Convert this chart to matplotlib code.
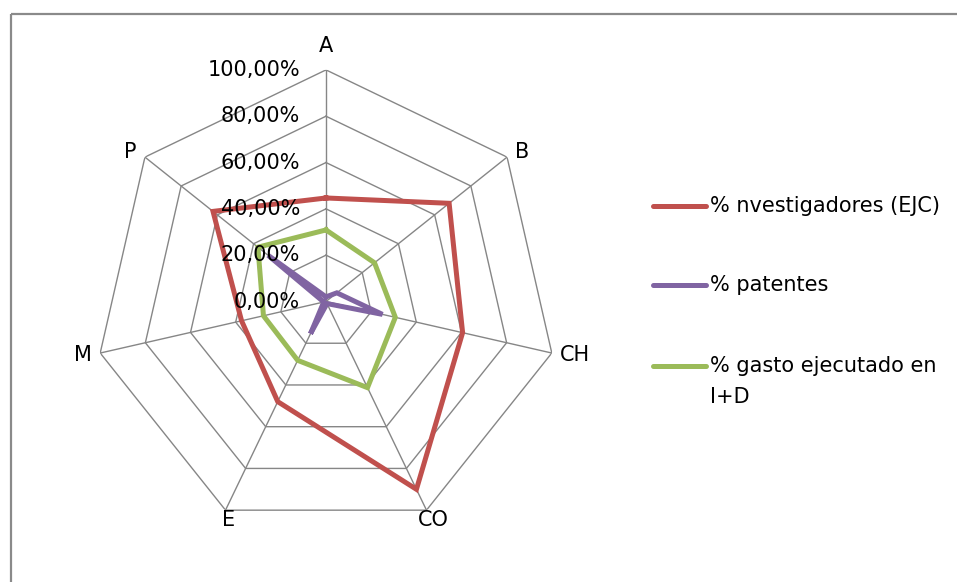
import numpy as np
import matplotlib
matplotlib.use("Agg")
import matplotlib.pyplot as plt
from matplotlib.lines import Line2D
from matplotlib.patches import Rectangle

categories = ["A", "B", "CH", "CO", "E", "M", "P"]
investigadores = [0.447, 0.68, 0.605, 0.90, 0.48, 0.374, 0.624]
patentes = [0.02, 0.06, 0.25, 0.01, 0.154, 0.01, 0.32]
gasto = [0.309, 0.268, 0.307, 0.413, 0.282, 0.277, 0.376]
series_names = ["% nvestigadores (EJC)", "% patentes", "% gasto ejecutado en\nI+D"]
tick_values = [0.0, 0.2, 0.4, 0.6, 0.8, 1.0]
tick_labels = ["0,00%", "20,00%", "40,00%", "60,00%", "80,00%", "100,00%"]

colors = ["#C0504D", "#8064A2", "#9BBB59"]
grid_color = "#868686"
FONT = "DejaVu Sans"
FS = 15
W, H = 957, 582
DPI = 100

fig = plt.figure(figsize=(W / DPI, H / DPI), dpi=DPI)
fig.patch.set_facecolor("white")

# overlay axes in pixel coordinates for frame and legend
ov = fig.add_axes([0, 0, 1, 1])
ov.set_xlim(0, W)
ov.set_ylim(H, 0)
ov.axis("off")
ov.add_patch(Rectangle((10.5, 13.5), 1000, 1000, fill=False, edgecolor="#8a8a8a", lw=1.6))

# radar axes
cx, cy, R = 326.0, 301.5, 231.6
ax = fig.add_axes([(cx - R) / W, (H - cy - R) / H, 2 * R / W, 2 * R / H], projection="polar")
ax.set_theta_zero_location("N")
ax.set_theta_direction(-1)
ax.set_ylim(0, 1)
ax.grid(False)
ax.spines["polar"].set_visible(False)
ax.set_xticks([])
ax.set_yticks([])
ax.patch.set_alpha(0)

n = len(categories)
theta = np.arange(n) * 2 * np.pi / n
theta_closed = np.append(theta, theta[0])

# heptagon grid rings
for v in tick_values[1:]:
    ax.plot(theta_closed, [v] * (n + 1), color=grid_color, lw=1.0, zorder=1)
# spokes
for t in theta:
    ax.plot([t, t], [0, 1], color=grid_color, lw=1.0, zorder=1)

# series
for vals, c in zip([investigadores, patentes, gasto], colors):
    v = np.append(vals, vals[0])
    ax.plot(theta_closed, v, color=c, lw=3.6, zorder=3, solid_joinstyle="miter")

# tick labels along A axis
for v, lab in zip(tick_values, tick_labels):
    ax.annotate(lab, xy=(0, v), xytext=(-26, 0), textcoords="offset pixels",
                ha="right", va="center", fontsize=FS, family=FONT, zorder=4)

# category labels
for t, lab in zip(theta, categories):
    s, c = np.sin(t), np.cos(t)
    if c > 0.9:
        ha, va, off = "center", "bottom", (0, 14)
    elif c < -0.5:
        ha, va, off = "center", "top", (7 if s > 0 else 3.5, 0)
    else:
        ha = "left" if s > 0 else "right"
        va = "center"
        off = (8 * np.sign(s), -2 if c < 0.5 else 5)
    ax.annotate(lab, xy=(t, 1), xytext=off, textcoords="offset pixels",
                ha=ha, va=va, fontsize=FS, family=FONT)

# legend (manual)
leg_y = [206, 285, 366]
for y, c, name in zip(leg_y, colors, series_names):
    ov.add_line(Line2D([653, 706], [y, y], color=c, lw=3.6, solid_capstyle="round"))
    for k, line in enumerate(name.split("\n")):
        ov.text(710, y + 31 * k, line, ha="left", va="center",
                fontsize=FS, family=FONT)

fig.savefig("out.png", dpi=DPI)
